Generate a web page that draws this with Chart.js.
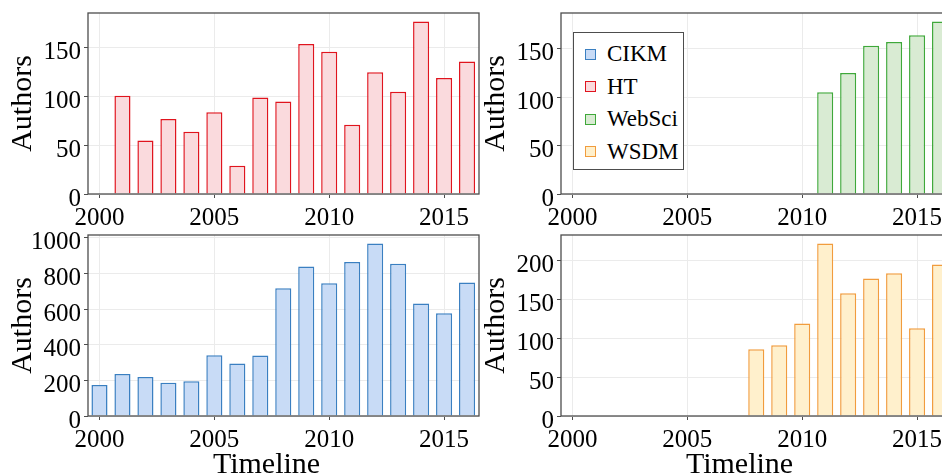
<!DOCTYPE html>
<html>
<head>
<meta charset="utf-8">
<script src="https://cdn.jsdelivr.net/npm/chart.js@4/dist/chart.umd.min.js"></script>
<style>
  html, body { margin: 0; padding: 0; width: 942px; height: 475px; overflow: hidden; background: #fff; }
  .panel { position: absolute; }
  #legend {
    position: absolute; left: 573px; top: 32px; width: 111px; height: 138px;
    box-sizing: border-box; border: 1.3px solid #4d4d4d; background: #fff;
    font-family: "Liberation Serif", serif; font-size: 23px; color: #000; z-index: 5;
  }
  .item { position: absolute; left: 11px; height: 32px; display: flex; align-items: center; }
  .swatch { width: 11px; height: 11px; box-sizing: border-box; border: 1.4px solid; margin-right: 11px; }
</style>
</head>
<body>
<canvas id="ht" class="panel" width="480" height="230" style="left:0;top:0"></canvas>
<canvas id="websci" class="panel" width="480" height="230" style="left:473px;top:0"></canvas>
<canvas id="cikm" class="panel" width="480" height="245" style="left:0;top:230px"></canvas>
<canvas id="wsdm" class="panel" width="480" height="245" style="left:473px;top:230px"></canvas>
<div id="legend"></div>
<script>
// Authors per year for each venue (null = no event that year)
const years  = [2000, 2001, 2002, 2003, 2004, 2005, 2006, 2007, 2008, 2009, 2010, 2011, 2012, 2013, 2014, 2015, 2016];
const cikm   = [174, 236, 219, 187, 195, 341, 294, 339, 717, 839, 744, 864, 967, 854, 631, 577, 749];
const ht     = [null, 101, 55, 77, 64, 84, 29, 99, 95, 154, 146, 71, 125, 105, 177, 119, 136];
const websci = [null, null, null, null, null, null, null, null, null, null, null, 105, 125, 153, 157, 164, 178];
const wsdm   = [null, null, null, null, null, null, null, null, 86, 91, 119, 222, 158, 177, 184, 113, 195];

// Tick values
const xTicks      = [2000, 2005, 2010, 2015];
const yTicksSmall = [0, 50, 100, 150];
const yTicksCikm  = [0, 200, 400, 600, 800, 1000];
const yTicksWsdm  = [0, 50, 100, 150, 200];

const venues = [
  { name: 'CIKM',   fill: '#c8dbf6', stroke: '#3a7fc1' },
  { name: 'HT',     fill: '#fadadd', stroke: '#e0141e' },
  { name: 'WebSci', fill: '#d9ebd3', stroke: '#3fa83a' },
  { name: 'WSDM',   fill: '#fff0cc', stroke: '#f19c3d' }
];

const SERIF = '"Liberation Serif", "Times New Roman", serif';
const GRID = '#ebebeb';
const AXIS = '#4d4d4d';

// Panel frame plus optional x-axis title
const framePlugin = {
  id: 'frame',
  afterDatasetsDraw(chart, args, opts) {
    const { ctx, chartArea: a } = chart;
    ctx.save();
    ctx.strokeStyle = AXIS;
    ctx.lineWidth = 1.3;
    ctx.strokeRect(a.left, a.top, a.right - a.left, a.bottom - a.top);
    if (opts.xTitle) {
      ctx.font = '30px ' + SERIF;
      ctx.fillStyle = '#000';
      ctx.textAlign = 'center';
      ctx.textBaseline = 'alphabetic';
      ctx.fillText(opts.xTitle, a.left + 178.5, opts.xTitleY);
    }
    ctx.restore();
  }
};

function noOverflow(s) {
  s.paddingTop = 0; s.paddingBottom = 0; s.paddingLeft = 0; s.paddingRight = 0;
}

function panel(id, values, venue, yTicks, bottomRow) {
  const yMax = Math.max(...values.filter(v => v !== null)) * 1.05;
  new Chart(document.getElementById(id), {
    type: 'bar',
    data: {
      datasets: [{
        label: venue.name,
        data: years.map((yr, i) => ({ x: yr, y: values[i] })),
        backgroundColor: venue.fill,
        borderColor: venue.stroke,
        borderWidth: 1.5,
        barPercentage: 0.7,
        categoryPercentage: 1
      }]
    },
    options: {
      responsive: false,
      animation: false,
      devicePixelRatio: 1,
      layout: { padding: { top: bottomRow ? 5 : 13, right: 1, left: 0, bottom: 0 } },
      plugins: {
        legend: { display: false },
        tooltip: { enabled: false },
        frame: bottomRow ? { xTitle: 'Timeline', xTitleY: 243 } : {}
      },
      scales: {
        x: {
          type: 'linear', min: 1999.5, max: 2016.52, offset: false,
          grid: { color: GRID, lineWidth: 1, tickColor: AXIS, tickLength: 4, offset: false },
          border: { display: false },
          ticks: { font: { family: SERIF, size: 25 }, color: '#000', padding: 5, maxRotation: 0, autoSkip: false,
                   callback: v => String(v) },
          afterBuildTicks: s => { s.ticks = xTicks.map(v => ({ value: v })); },
          afterFit: s => { s.height = bottomRow ? 59 : 36; noOverflow(s); }
        },
        y: {
          min: 0, max: yMax,
          grid: { color: GRID, lineWidth: 1, tickColor: AXIS, tickLength: 4 },
          border: { display: false },
          ticks: { font: { family: SERIF, size: 25 }, color: '#000', padding: 3, labelOffset: 5,
                   callback: v => String(v) },
          afterBuildTicks: s => { s.ticks = yTicks.map(v => ({ value: v })); },
          afterFit: s => { s.width = 88; noOverflow(s); },
          title: { display: true, text: 'Authors', color: '#000',
                   font: { family: SERIF, size: 30 }, padding: { top: 5, bottom: 0 } }
        }
      }
    },
    plugins: [framePlugin]
  });
}

panel('ht', ht, venues[1], yTicksSmall, false);
panel('websci', websci, venues[2], yTicksSmall, false);
panel('cikm', cikm, venues[0], yTicksCikm, true);
panel('wsdm', wsdm, venues[3], yTicksWsdm, true);

// Legend box
const legend = document.getElementById('legend');
venues.forEach((v, i) => {
  const row = document.createElement('div');
  row.className = 'item';
  row.style.top = (5 + i * 32.5) + 'px';
  const sw = document.createElement('span');
  sw.className = 'swatch';
  sw.style.background = v.fill;
  sw.style.borderColor = v.stroke;
  const label = document.createElement('span');
  label.textContent = v.name;
  row.appendChild(sw);
  row.appendChild(label);
  legend.appendChild(row);
});
</script>
</body>
</html>
